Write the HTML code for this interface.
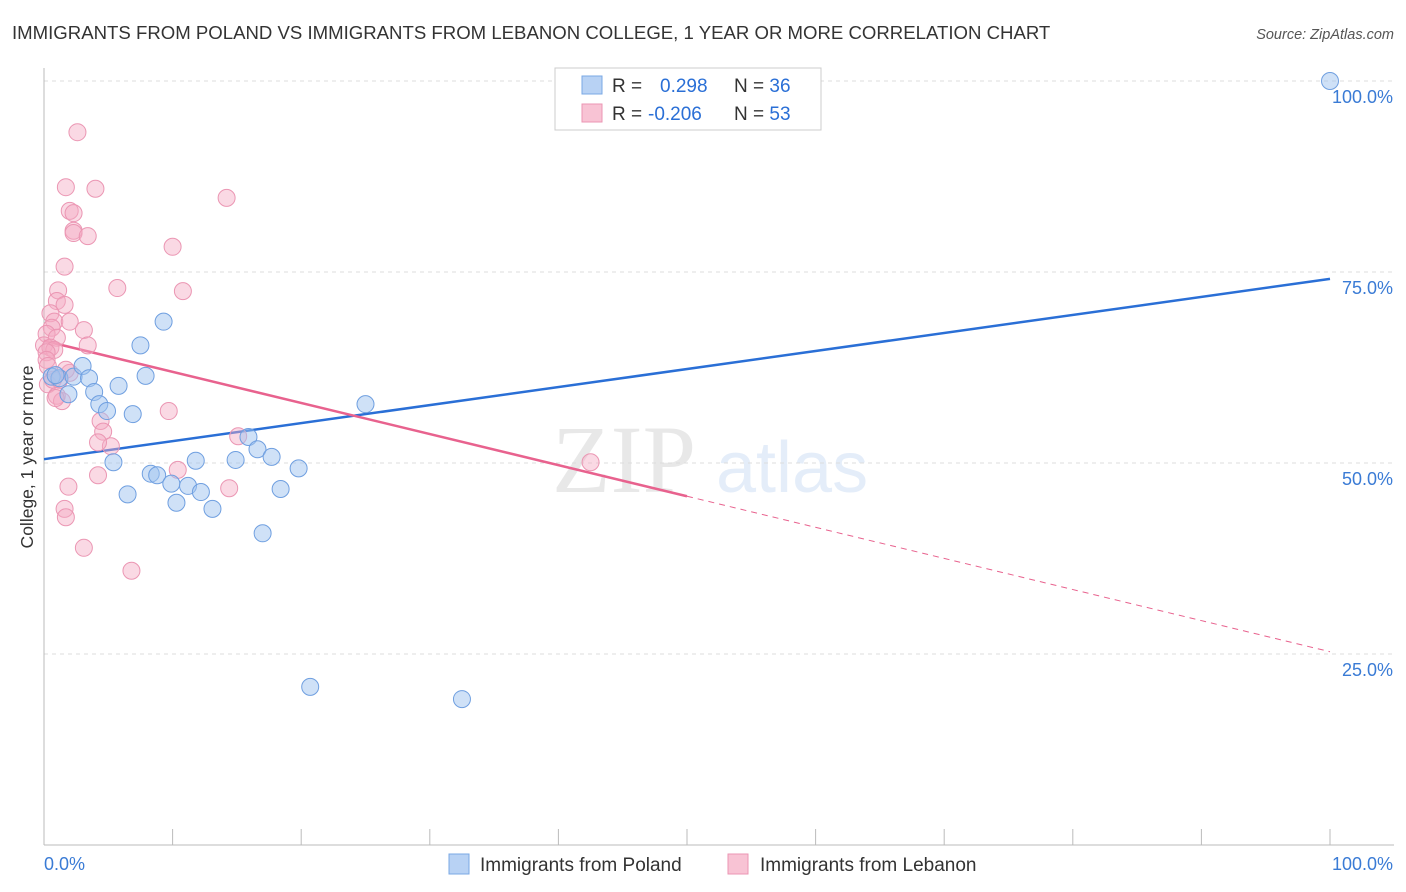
<!DOCTYPE html>
<html><head><meta charset="utf-8"><style>
body{margin:0;background:#fff;font-family:"Liberation Sans",sans-serif;}
svg{display:block}
</style></head><body>
<svg id="chart" width="1406" height="892" viewBox="0 0 1406 892" xmlns="http://www.w3.org/2000/svg">
<text x="12" y="39" font-size="18.6" fill="#333">IMMIGRANTS FROM POLAND VS IMMIGRANTS FROM LEBANON COLLEGE, 1 YEAR OR MORE CORRELATION CHART</text>
<text x="1394" y="39" font-size="14.5" fill="#555" text-anchor="end" font-style="italic">Source: ZipAtlas.com</text>
<text transform="translate(33,457) rotate(-90)" font-size="17.5" fill="#333" text-anchor="middle">College, 1 year or more</text>
<g font-size="96" opacity="0.13">
<text x="552" y="492" font-family="Liberation Serif,serif" fill="#555">ZIP</text>
<text x="716" y="492" fill="#3a7bd5" font-size="72">atlas</text>
</g>
<g id="grid"></g><g id="axes"></g><g id="lines"></g><g id="points"></g>
<g>
<rect x="555" y="68" width="266" height="62" fill="#fff" stroke="#ccc"/>
<rect x="582" y="76" width="20" height="18" fill="#b8d2f4" stroke="#7aa8e4"/>
<rect x="582" y="104" width="20" height="18" fill="#f8c3d4" stroke="#eb96b3"/>
<text x="612" y="92" font-size="19" fill="#333">R = <tspan fill="#2a6fd6" x="660">0.298</tspan><tspan x="734" fill="#333">N = </tspan><tspan fill="#2a6fd6">36</tspan></text>
<text x="612" y="120" font-size="19" fill="#333">R = <tspan fill="#2a6fd6" x="648">-0.206</tspan><tspan x="734" fill="#333">N = </tspan><tspan fill="#2a6fd6">53</tspan></text>
</g>
<g font-size="19" fill="#333">
<rect x="449" y="854" width="20" height="20" fill="#b8d2f4" stroke="#7aa8e4"/>
<text x="480" y="871">Immigrants from Poland</text>
<rect x="728" y="854" width="20" height="20" fill="#f8c3d4" stroke="#eb96b3"/>
<text x="760" y="871">Immigrants from Lebanon</text>
</g>
</svg>
<script>
const polandX=[100,0.6,1.2,0.9,1.9,2.3,3.0,3.5,3.9,4.3,4.9,5.4,5.8,6.5,6.9,7.5,7.9,8.3,8.8,9.3,9.9,10.3,11.2,11.8,12.2,13.1,14.9,15.9,16.6,17.0,17.7,18.4,19.8,20.7,25.0,32.5];
const polandY=[100,61.3,61.1,61.5,59.0,61.3,62.7,61.1,59.3,57.7,56.8,50.1,60.1,45.9,56.4,65.4,61.4,48.6,48.4,68.5,47.3,44.8,47.0,50.3,46.2,44.0,50.4,53.4,51.8,40.8,50.8,46.6,49.3,20.7,57.7,19.1];
const lebanonX=[2.6,1.7,4.0,2.0,2.3,2.3,2.3,3.4,14.2,10.0,1.6,5.7,10.8,1.1,1.0,1.6,0.5,0.8,2.0,0.6,3.1,0.2,1.0,0,0.5,3.4,0.8,0.2,0.3,2.0,1.7,1.0,1.4,9.7,4.4,4.6,15.1,5.2,4.2,10.4,4.2,1.9,14.4,1.6,1.7,3.1,6.8,42.5,0.7,0.9,0.2,1.2,0.3];
const lebanonY=[93.3,86.1,85.9,83.0,82.7,80.4,80.1,79.7,84.7,78.3,75.7,72.9,72.5,72.6,71.2,70.7,69.6,68.5,68.5,67.7,67.4,66.9,66.4,65.4,65.1,65.4,64.8,64.5,60.3,61.8,62.2,58.8,58.1,56.8,55.5,54.1,53.5,52.2,52.7,49.1,48.4,46.9,46.7,44.0,42.9,38.9,35.9,50.1,60.9,58.5,63.5,60.9,62.7];
const yTicks=[25,50,75,100];
const yTickLabels=["25.0%","50.0%","75.0%","100.0%"];
const polandTrend=[50.5,74.1];
const lebanonTrend=[66.0,25.3];
const NS="http://www.w3.org/2000/svg";
const sx=v=>44+v*12.86, sy=v=>845-v*7.64;
function mk(tag,attrs,parent){const e=document.createElementNS(NS,tag);for(const k in attrs)e.setAttribute(k,attrs[k]);document.getElementById(parent).appendChild(e);return e;}
yTicks.forEach((t,i)=>{
 const g=mk('line',{x1:44,x2:1394,y1:sy(t),y2:sy(t),stroke:'#ddd','stroke-dasharray':'4,4'},'grid');
 
 
 const l=mk('text',{x:1393,y:sy(t)+22,'font-size':18,fill:'#3a7bd5','text-anchor':'end'},'grid');
 l.textContent=yTickLabels[i];
 
 
});
const ax=mk('line',{x1:44,x2:1394,y1:845,y2:845,stroke:'#bbb'},'axes');


const ay=mk('line',{x1:44,x2:44,y1:68,y2:845,stroke:'#bbb'},'axes');


for(let i=0;i<=10;i++){const t=mk('line',{x1:sx(i*10),x2:sx(i*10),y1:829,y2:845,stroke:'#bbb'},'axes');
 
 }
const xl0=mk('text',{x:44,y:870,'font-size':18,fill:'#3a7bd5'},'axes');xl0.textContent='0.0%';


const xl1=mk('text',{x:1393,y:870,'font-size':18,fill:'#3a7bd5','text-anchor':'end'},'axes');xl1.textContent='100.0%';


const bl=mk('line',{x1:sx(0),y1:sy(polandTrend[0]),x2:sx(100),y2:sy(polandTrend[1]),stroke:'#2a6fd6','stroke-width':2.5},'lines');


const lm=lebanonTrend[0]+(lebanonTrend[1]-lebanonTrend[0])*0.5;
const pl=mk('line',{x1:sx(0),y1:sy(lebanonTrend[0]),x2:sx(50),y2:sy(lm),stroke:'#e8628e','stroke-width':2.5},'lines');


const pd=mk('line',{x1:sx(50),y1:sy(lm),x2:sx(100),y2:sy(lebanonTrend[1]),stroke:'#e8628e','stroke-width':1,'stroke-dasharray':'6,5'},'lines');


lebanonX.forEach((x,i)=>{const c=mk('circle',{cx:sx(x),cy:sy(lebanonY[i]),r:8.5,fill:'rgba(245,170,196,0.45)',stroke:'#eb96b3','stroke-width':1},'points');
 
 });
polandX.forEach((x,i)=>{const c=mk('circle',{cx:sx(x),cy:sy(polandY[i]),r:8.5,fill:'rgba(160,196,240,0.5)',stroke:'#6f9fe0','stroke-width':1},'points');
 
 });
</script>
</body></html>
